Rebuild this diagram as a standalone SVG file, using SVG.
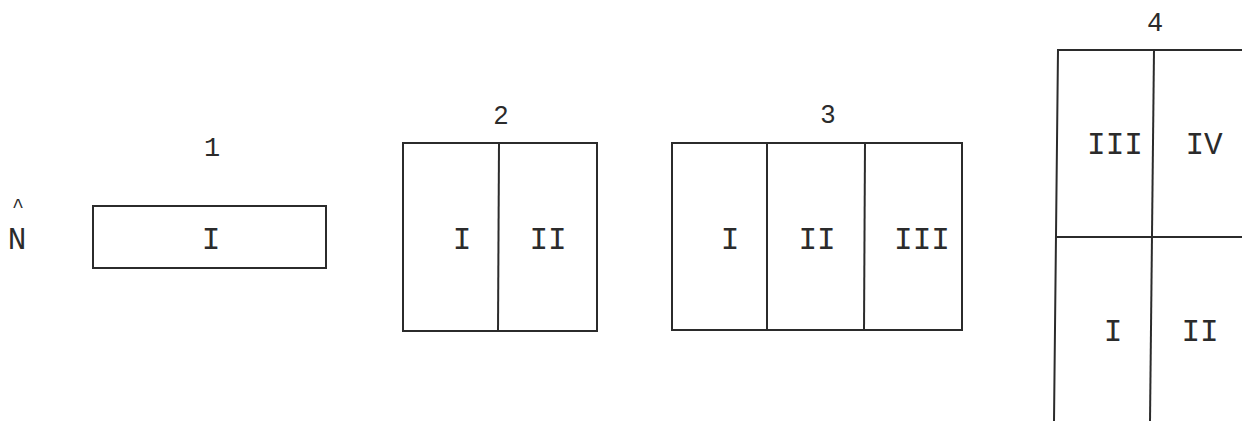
<svg xmlns="http://www.w3.org/2000/svg" width="1242" height="421" viewBox="0 0 1242 421">
<style>
.bg{fill:#ffffff}
.box{fill:none;stroke:#2b2b2b;stroke-width:2}
.ln{stroke:#2b2b2b;stroke-width:2;fill:none}
.rn{font-family:"Liberation Mono","Courier New",monospace;font-size:31px;fill:#2b2b2b;text-anchor:middle}
.car{font-family:"Liberation Mono","Courier New",monospace;font-size:20px;fill:#2b2b2b;text-anchor:middle}
.num{font-family:"Liberation Sans",Arial,sans-serif;font-size:26px;fill:#2b2b2b;text-anchor:middle}
.numm{font-family:"Liberation Mono","Courier New",monospace;font-size:27px;fill:#2b2b2b;text-anchor:middle}
</style>
<rect class="bg" x="0" y="0" width="1242" height="421"/>
<g id="north">
<text class="car" x="18" y="212">^</text>
<text class="rn" x="17" y="249">N</text>
</g>
<g id="plan1">
<text class="numm" x="212" y="156">1</text>
<rect class="box" x="93" y="206" width="233" height="62"/>
<text class="rn" x="211" y="249">I</text>
</g>
<g id="plan2">
<text class="num" x="501" y="124">2</text>
<rect class="box" x="403" y="143" width="194" height="188"/>
<line class="ln" x1="499" y1="143" x2="498" y2="331"/>
<text class="rn" x="462" y="249">I</text>
<text class="rn" x="548" y="249">II</text>
</g>
<g id="plan3">
<text class="num" x="828" y="123">3</text>
<rect class="box" x="672" y="143" width="290" height="187"/>
<line class="ln" x1="767" y1="143" x2="767" y2="330"/>
<line class="ln" x1="865" y1="143" x2="864" y2="330"/>
<text class="rn" x="730" y="249">I</text>
<text class="rn" x="817" y="249">II</text>
<text class="rn" x="922" y="249">III</text>
</g>
<g id="plan4">
<text class="numm" x="1155" y="31">4</text>
<path class="ln" d="M1242 50 L1058 50 L1054 421"/>
<line class="ln" x1="1154" y1="50" x2="1150" y2="421"/>
<line class="ln" x1="1056" y1="237" x2="1242" y2="237"/>
<text class="rn" x="1115" y="154">III</text>
<text class="rn" x="1204" y="154">IV</text>
<text class="rn" x="1113" y="341">I</text>
<text class="rn" x="1200" y="341">II</text>
</g>
</svg>
